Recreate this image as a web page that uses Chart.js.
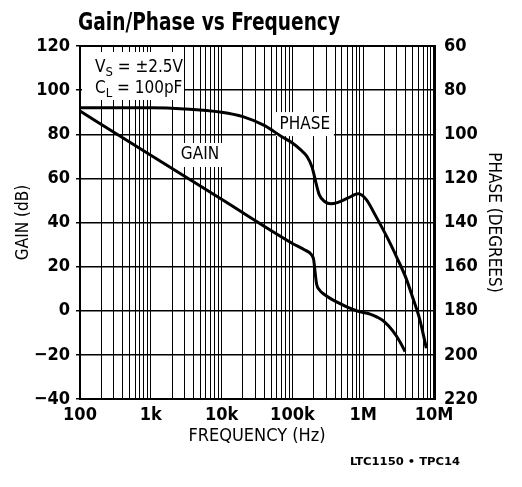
<!DOCTYPE html>
<html>
<head>
<meta charset="utf-8">
<script src="https://cdn.jsdelivr.net/npm/chart.js@4.4.1/dist/chart.umd.min.js"></script>
<style>
  html, body { margin: 0; padding: 0; background: #fff; }
  #wrap { position: relative; width: 522px; height: 487px; }
</style>
</head>
<body>
<div id="wrap"><canvas id="gainPhaseChart" width="522" height="487"></canvas></div>
<script>
// frequency (Hz) -> gain (dB)
const gainFreq = [100, 1000, 10000, 100000, 150000, 185000, 200000, 210000, 220000, 240000, 280000, 420000, 800000, 1250000, 1600000, 2000000, 2600000, 3300000, 3900000];
const gainDb   = [90.5, 70.5, 50.5, 30.5, 27.5, 25.5, 23, 17, 12, 9.5, 7.5, 4, 0, -1.5, -3, -5, -9, -14, -18.5];

// frequency (Hz) -> phase (degrees)
const phaseFreq = [100, 1000, 3000, 10000, 20000, 40000, 70000, 100000, 130000, 160000, 190000, 215000, 240000, 285000, 350000, 430000, 600000, 850000, 1100000, 1500000, 2200000, 3000000, 4000000, 5000000, 6300000, 7800000];
const phaseDeg  = [88, 88, 88.5, 90, 92, 96, 101, 104, 107, 110, 115, 122, 127.5, 130.5, 131.5, 131, 129, 127, 129.5, 137, 147, 156, 165, 174, 184, 197];

const xTickValues = [100, 1000, 10000, 100000, 1000000, 10000000];
const xTickLabels = ["100", "1k", "10k", "100k", "1M", "10M"];

// vertical grid: every 1..9 step of each decade
const xGrid = [];
for (let e = 2; e < 7; e++) for (let m = 1; m < 10; m++) xGrid.push(m * 10 ** e);
xGrid.push(1e7);

const NARROW = "'Liberation Sans Narrow', 'Arial Narrow', 'DejaVu Sans Condensed', sans-serif";
Chart.defaults.font.family = NARROW;
Chart.defaults.color = "#000";

function fitText(ctx, text, x, y, width) {
  const w = ctx.measureText(text).width;
  ctx.save();
  ctx.translate(x, y);
  ctx.scale(width / w, 1);
  ctx.fillText(text, 0, 0);
  ctx.restore();
}

function subText(ctx, main, sub, rest, x, y, size) {
  ctx.font = `${size}px ${NARROW}`;
  ctx.fillText(main, x, y);
  x += ctx.measureText(main).width;
  ctx.font = `${size - 4}px ${NARROW}`;
  ctx.fillText(sub, x, y + 4);
  x += ctx.measureText(sub).width;
  ctx.font = `${size}px ${NARROW}`;
  ctx.fillText(rest, x, y);
}

const decor = {
  id: "decor",
  beforeDatasetsDraw(chart) {
    const { ctx, chartArea: a, scales } = chart;
    ctx.save();
    ctx.fillStyle = "#fff";
    // test condition box
    ctx.fillRect(a.left + 2, a.top + 6, 102, 48);
    // curve labels
    const px = scales.x.getPixelForValue(150000), py = scales.y.getPixelForValue(84.6);
    const gx = scales.x.getPixelForValue(4950), gy = scales.y.getPixelForValue(70.6);
    ctx.fillRect(px - 29, py - 12, 58, 24);
    ctx.fillRect(gx - 24, gy - 12, 48, 24);

    ctx.fillStyle = "#000";
    ctx.textBaseline = "alphabetic";
    ctx.textAlign = "left";
    subText(ctx, "V", "S", " = \u00b12.5V", a.left + 15, a.top + 26, 17);
    subText(ctx, "C", "L", " = 100pF", a.left + 15, a.top + 47, 17);

    ctx.font = `17px ${NARROW}`;
    ctx.textAlign = "center";
    ctx.textBaseline = "middle";
    ctx.fillText("PHASE", px, py);
    ctx.fillText("GAIN", gx, gy);
    ctx.restore();
  },
  afterDraw(chart) {
    const { ctx, chartArea: a } = chart;
    ctx.save();
    ctx.strokeStyle = "#000";
    ctx.lineWidth = 2;
    ctx.beginPath();
    ctx.moveTo(a.left, a.top);
    ctx.lineTo(a.right, a.top);
    ctx.stroke();

    ctx.fillStyle = "#000";
    ctx.textAlign = "left";
    ctx.textBaseline = "alphabetic";
    ctx.font = `bold 24px ${NARROW}`;
    fitText(ctx, "Gain/Phase vs Frequency", 78, 30, 262);
    ctx.font = `bold 10px ${NARROW}`;
    fitText(ctx, "LTC1150 \u2022 TPC14", 350, 465, 110);
    ctx.restore();
  }
};

new Chart(document.getElementById("gainPhaseChart"), {
  type: "line",
  data: {
    datasets: [
      {
        label: "GAIN",
        data: gainFreq.map((f, i) => ({ x: f, y: gainDb[i] })),
        yAxisID: "y",
        borderColor: "#000",
        borderWidth: 3,
        pointRadius: 0,
        cubicInterpolationMode: "monotone",
        fill: false
      },
      {
        label: "PHASE",
        data: phaseFreq.map((f, i) => ({ x: f, y: phaseDeg[i] })),
        yAxisID: "y2",
        borderColor: "#000",
        borderWidth: 3,
        pointRadius: 0,
        cubicInterpolationMode: "monotone",
        fill: false
      }
    ]
  },
  options: {
    responsive: false,
    animation: false,
    devicePixelRatio: 1,
    layout: { padding: { top: 46 } },
    plugins: { legend: { display: false }, tooltip: { enabled: false } },
    scales: {
      x: {
        type: "logarithmic",
        position: "bottom",
        min: 100,
        max: 1e7,
        afterBuildTicks: s => { s.ticks = xGrid.map(v => ({ value: v })); },
        afterFit: s => { s.height = 88; },
        ticks: {
          autoSkip: false,
          maxRotation: 0,
          padding: 6,
          font: { size: 18, weight: "bold" },
          callback: v => {
            const i = xTickValues.indexOf(v);
            return i < 0 ? "" : xTickLabels[i];
          }
        },
        grid: { color: "#000", lineWidth: 1, drawTicks: false },
        border: { color: "#000", width: 2 },
        title: { display: true, text: "FREQUENCY (Hz)", font: { size: 18 }, padding: { top: 0, bottom: 40 } }
      },
      y: {
        position: "left",
        min: -40,
        max: 120,
        afterFit: s => { s.width = 80; },
        ticks: {
          stepSize: 20,
          padding: 6,
          font: { size: 18, weight: "bold" },
          callback: v => String(v).replace("-", "\u2212")
        },
        grid: { color: "#000", lineWidth: 1.5, tickLength: 4 },
        border: { color: "#000", width: 2 },
        title: { display: true, text: "GAIN (dB)", font: { size: 17 }, padding: { top: 13, bottom: 0 } }
      },
      y2: {
        position: "right",
        min: 60,
        max: 220,
        reverse: true,
        afterFit: s => { s.width = 88; },
        ticks: { stepSize: 20, padding: 10, font: { size: 18, weight: "bold" } },
        grid: { drawOnChartArea: false, drawTicks: false },
        border: { color: "#000", width: 3 },
        title: { display: true, text: "PHASE (DEGREES)", font: { size: 17 }, padding: { top: 18, bottom: 0 } }
      }
    }
  },
  plugins: [decor]
});
</script>
</body>
</html>
